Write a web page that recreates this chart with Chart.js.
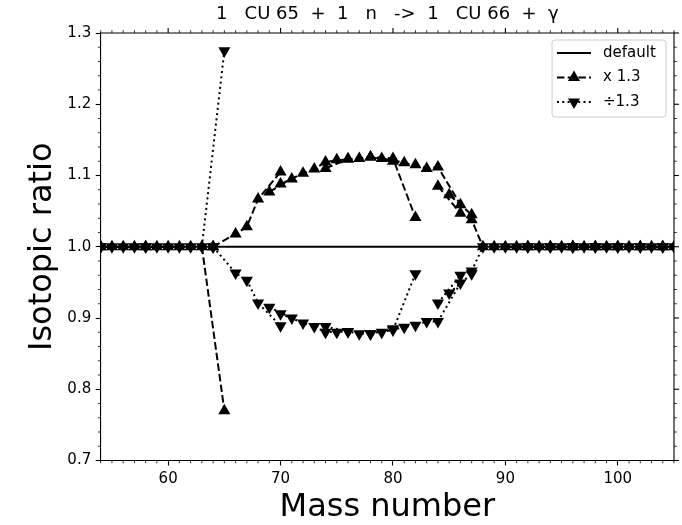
<!DOCTYPE html>
<html><head><meta charset="utf-8">
<script src="https://cdn.jsdelivr.net/npm/chart.js@4/dist/chart.umd.min.js"></script>
<style>html,body{margin:0;padding:0;background:#fff;}#wrap{width:682px;height:525px;}</style>
</head><body><div id="wrap"><canvas id="c" width="682" height="525"></canvas></div>
<script>
const titleText = '1   CU 65  +  1   n   ->  1   CU 66  +  \u03b3';
const xAxisTitle = 'Mass number';
const yAxisTitle = 'Isotopic ratio';
const seriesLabels = ['default', 'x 1.3', '\u00f71.3'];

const isotopeElement = [
  'Cr','Cr','Cr','Cr','Mn','Fe','Fe','Fe','Fe','Co',
  'Ni','Ni','Ni','Ni','Ni','Cu','Cu',
  'Zn','Zn','Zn','Zn','Zn','Ga','Ga',
  'Ge','Ge','Ge','Ge','Ge','As',
  'Se','Se','Se','Se','Se','Se','Br','Br',
  'Kr','Kr','Kr','Kr','Kr','Kr','Rb','Rb',
  'Sr','Sr','Sr','Sr','Y',
  'Zr','Zr','Zr','Zr','Zr','Nb',
  'Mo','Mo','Mo','Mo','Mo','Mo','Mo',
  'Ru','Ru','Ru','Ru','Ru','Ru','Ru','Rh',
  'Pd','Pd','Pd','Pd','Pd','Pd'
];
const isotopeMass = [
  50,52,53,54,55,54,56,57,58,59,
  58,60,61,62,64,63,65,
  64,66,67,68,70,69,71,
  70,72,73,74,76,75,
  74,76,77,78,80,82,79,81,
  78,80,82,83,84,86,85,87,
  84,86,87,88,89,
  90,91,92,94,96,93,
  92,94,95,96,97,98,100,
  96,98,99,100,101,102,104,103,
  102,104,105,106,108,110
];
const ratioDefault = isotopeMass.map(() => 1.0);
const ratioTimes13 = [
  1,1,1,1,1,1,1,1,1,1,
  1,1,1,1,1,1,0.770,
  1,1.018,1.028,1.067,1.105,1.077,1.095,
  1.088,1.103,1.109,1.119,1.123,1.122,
  1.110,1.123,1.124,1.126,1.124,1.041,1.124,1.118,
  1.126,1.120,1.115,1.110,1.112,1.059,1.073,1.045,
  1.085,1.047,1.038,1,1,
  1,1,1,1,1,1,
  1,1,1,1,1,1,1,
  1,1,1,1,1,1,1,1,
  1,1,1,1,1,1
];
const ratioDiv13 = [
  1,1,1,1,1,1,1,1,1,1,
  1,1,1,1,1,1,1.275,
  1,0.963,0.953,0.921,0.889,0.915,0.900,
  0.906,0.893,0.888,0.880,0.881,0.880,
  0.888,0.881,0.878,0.878,0.883,0.962,0.880,0.887,
  0.878,0.885,0.890,0.895,0.895,0.949,0.935,0.962,
  0.921,0.960,0.966,1,1,
  1,1,1,1,1,1,
  1,1,1,1,1,1,1,
  1,1,1,1,1,1,1,1,
  1,1,1,1,1,1
];
const xRange = [54, 105];
const yRange = [0.7, 1.3];
const xTickValues = [60, 70, 80, 90, 100];
const yTickValues = [0.7, 0.8, 0.9, 1.0, 1.1, 1.2, 1.3];
const xMinorStep = 1;
const yMinorStep = 0.02;

const FONT = "'DejaVu Sans', sans-serif";
const MARKER_R = 7;

function buildSeries(values) {
  const pts = [];
  for (let i = 0; i < values.length; i++) {
    if (i > 0 && isotopeElement[i] !== isotopeElement[i - 1]) {
      pts.push({x: isotopeMass[i], y: null});
    }
    pts.push({x: isotopeMass[i], y: values[i]});
  }
  return pts;
}
const defaultPts = isotopeMass.map((m, i) => ({x: m, y: ratioDefault[i]})).sort((a, b) => a.x - b.x);

const lineStyles = [
  {dash: [], marker: null},
  {dash: [7.5, 3.2], marker: 0},
  {dash: [2, 3.3], marker: 180}
];

const axisDecor = {
  id: 'axisDecor',
  afterDraw(chart) {
    const {ctx, chartArea: a, scales: {x, y}} = chart;
    ctx.save();
    ctx.strokeStyle = '#000';
    const seg = (x1, y1, x2, y2) => { ctx.beginPath(); ctx.moveTo(x1, y1); ctx.lineTo(x2, y2); ctx.stroke(); };
    ctx.lineWidth = 1.1;
    ctx.beginPath(); ctx.moveTo(a.left, a.top); ctx.lineTo(a.right, a.top); ctx.lineTo(a.right, a.bottom); ctx.stroke();
    xTickValues.forEach(v => { const p = x.getPixelForValue(v); seg(p, a.top, p, a.top - 5); });
    yTickValues.forEach(v => { const p = y.getPixelForValue(v); seg(a.right, p, a.right + 5, p); });
    ctx.lineWidth = 0.8;
    for (let m = Math.ceil(x.min); m <= x.max + 1e-9; m += xMinorStep) {
      if (xTickValues.some(t => Math.abs(t - m) < 1e-9)) continue;
      const p = x.getPixelForValue(m);
      seg(p, a.bottom, p, a.bottom + 2.8);
      seg(p, a.top, p, a.top - 2.8);
    }
    const n = Math.round((yRange[1] - yRange[0]) / yMinorStep);
    for (let k = 0; k <= n; k++) {
      const v = yRange[0] + k * yMinorStep;
      if (yTickValues.some(t => Math.abs(t - v) < 1e-6)) continue;
      const p = y.getPixelForValue(v);
      seg(a.left - 2.8, p, a.left, p);
      seg(a.right, p, a.right + 2.8, p);
    }
    ctx.restore();
  }
};

const legendBox = {
  id: 'legendBox',
  afterDraw(chart) {
    const {ctx, chartArea: a} = chart;
    const bw = 114, bh = 77;
    const bx = a.right - 8 - bw, by = a.top + 7;
    ctx.save();
    ctx.beginPath();
    if (ctx.roundRect) ctx.roundRect(bx, by, bw, bh, 3); else ctx.rect(bx, by, bw, bh);
    ctx.fillStyle = 'rgba(255,255,255,0.8)';
    ctx.fill();
    ctx.strokeStyle = '#cccccc';
    ctx.lineWidth = 1;
    ctx.stroke();
    seriesLabels.forEach((lab, i) => {
      const cy = by + 13 + i * 24.5;
      const st = lineStyles[i];
      ctx.strokeStyle = '#000';
      ctx.lineWidth = 2;
      ctx.setLineDash(st.dash);
      ctx.beginPath(); ctx.moveTo(bx + 5, cy); ctx.lineTo(bx + 39, cy); ctx.stroke();
      ctx.setLineDash([]);
      if (st.marker !== null) {
        ctx.fillStyle = '#000';
        Chart.helpers.drawPoint(ctx, {pointStyle: 'triangle', radius: MARKER_R, rotation: st.marker, borderWidth: 0}, bx + 22, cy);
      }
      ctx.fillStyle = '#000';
      ctx.font = '15px ' + FONT;
      ctx.textBaseline = 'middle';
      ctx.textAlign = 'left';
      ctx.fillText(lab, bx + 51, cy);
    });
    ctx.restore();
  }
};

const tickGrid = {display: true, drawOnChartArea: false, drawTicks: true, tickLength: 5, tickColor: '#000', tickWidth: 1.1};
const border = {display: true, color: '#000', width: 1.1};

new Chart(document.getElementById('c').getContext('2d'), {
  type: 'line',
  data: {
    datasets: [
      {label: seriesLabels[0], data: defaultPts, borderColor: '#000', borderWidth: 2, pointRadius: 0, order: 3},
      {label: seriesLabels[1], data: buildSeries(ratioTimes13), borderColor: '#000', borderWidth: 2,
       borderDash: lineStyles[1].dash, pointStyle: 'triangle', pointRadius: MARKER_R, pointRotation: 0,
       pointBackgroundColor: '#000', pointBorderColor: '#000', pointBorderWidth: 0, order: 2},
      {label: seriesLabels[2], data: buildSeries(ratioDiv13), borderColor: '#000', borderWidth: 2,
       borderDash: lineStyles[2].dash, pointStyle: 'triangle', pointRadius: MARKER_R, pointRotation: 180,
       pointBackgroundColor: '#000', pointBorderColor: '#000', pointBorderWidth: 0, order: 1}
    ]
  },
  options: {
    responsive: false, animation: false, devicePixelRatio: 1, spanGaps: false,
    layout: {padding: {left: 0, right: 8, top: 0, bottom: 0}},
    plugins: {
      legend: {display: false},
      tooltip: {enabled: false},
      title: {display: true, text: titleText, fullSize: false, color: '#000',
              font: {family: FONT, size: 18, weight: 'normal', lineHeight: 1.2}, padding: {top: 4, bottom: 7.4}}
    },
    scales: {
      x: {
        type: 'linear', position: 'bottom', min: xRange[0], max: xRange[1],
        afterBuildTicks: s => { s.ticks = xTickValues.map(v => ({value: v})); },
        afterFit: s => { s.height = 64.5; },
        ticks: {font: {family: FONT, size: 15}, color: '#000', padding: 5, maxRotation: 0, autoSkip: false, callback: v => String(v)},
        grid: tickGrid, border: border,
        title: {display: true, text: xAxisTitle, color: '#000', font: {family: FONT, size: 32, lineHeight: 1.1}, padding: {top: 0, bottom: 0}}
      },
      y: {
        type: 'linear', position: 'left', min: yRange[0], max: yRange[1],
        afterBuildTicks: s => { s.ticks = yTickValues.map(v => ({value: v})); },
        afterFit: s => { s.width = 100.7; },
        ticks: {font: {family: FONT, size: 15}, color: '#000', padding: 4.5, autoSkip: false, callback: v => Number(v).toFixed(1)},
        grid: tickGrid, border: border,
        title: {display: true, text: yAxisTitle, color: '#000', font: {family: FONT, size: 32, lineHeight: 1.2}, padding: {top: 23, bottom: 0}}
      }
    }
  },
  plugins: [axisDecor, legendBox]
});
</script>
</body></html>
